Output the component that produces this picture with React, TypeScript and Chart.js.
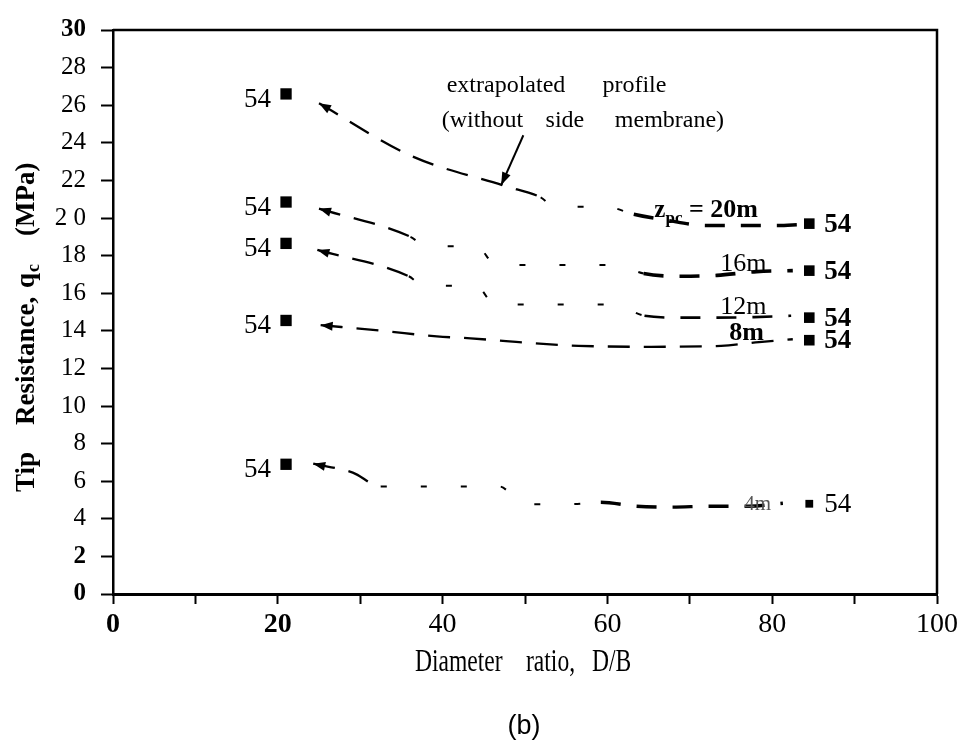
import React, { useEffect, useRef } from 'react';
import { Chart, registerables } from 'chart.js';

Chart.register(...registerables);

const SERIF = '"Liberation Serif", "Times New Roman", serif';
const SANS = '"Liberation Sans", Arial, sans-serif';

// ---- data ----
const leftD = 21;
const rightD = 84.5;
const leftQc = [26.6, 20.85, 18.65, 14.55, 6.9];
const rightQc = [19.7, 17.2, 14.7, 13.5, 4.8];
const pointLabel = '54';
const depthLabels = ['20m', '16m', '12m', '8m', '4m'];

const curve20X = [25, 36.2, 47.6, 51.9, 53.6, 59.8, 63.2, 67, 72, 76.4, 80.7, 83.3];
const curve20Y = [26.1, 23.3, 21.7, 21.1, 20.6, 20.6, 20.2, 19.9, 19.6, 19.6, 19.6, 19.65];
const curve16X = [25, 36.1, 38, 44.1, 46.5, 61, 64.4, 68.9, 73.3, 78.1, 82.5];
const curve16Y = [20.5, 19.0, 18.5, 18.5, 17.5, 17.5, 17.05, 16.9, 16.95, 17.15, 17.2];
const curve12X = [24.8, 35.9, 37.7, 44, 46.4, 60.9, 64.5, 68.9, 73.2, 77.8, 82.3];
const curve12Y = [18.3, 16.9, 16.4, 16.4, 15.4, 15.4, 14.8, 14.7, 14.7, 14.73, 14.8];
const curve8X = [25.2, 32.7, 39.3, 43.4, 47.7, 52.2, 56.5, 65.3, 73.8, 78.4, 82.5];
const curve8Y = [14.3, 14.0, 13.7, 13.6, 13.45, 13.3, 13.2, 13.15, 13.2, 13.4, 13.55];
const curve4X = [24.3, 29.1, 32.5, 46.9, 49.8, 55.6, 59.2, 63.5, 67.9, 72.3, 77.2, 81.3];
const curve4Y = [6.93, 6.46, 5.72, 5.72, 4.78, 4.78, 4.88, 4.67, 4.62, 4.67, 4.67, 4.83];

// style per curve (dash regimes by D/B range)
const curves = [
  { xs: curve20X, ys: curve20Y, longTo: 51.5, sparseTo: 63, boldW: 3.4 },
  { xs: curve16X, ys: curve16Y, longTo: 36, sparseTo: 62, boldW: 3.6 },
  { xs: curve12X, ys: curve12Y, longTo: 35.5, sparseTo: 62, boldW: 2.6 },
  { xs: curve8X, ys: curve8Y, longTo: 200, sparseTo: 200, boldW: 2.4 },
  { xs: curve4X, ys: curve4Y, longTo: 32, sparseTo: 58, boldW: 3.4 },
];

function segStyle(longTo: number, sparseTo: number, boldW: number) {
  return {
    borderDash: (c: any) => {
      const x = c.p0.parsed.x;
      if (x < longTo) return [22, 14];
      if (x < sparseTo) return [6, 34];
      return [20, 16];
    },
    borderWidth: (c: any) => {
      const x = c.p0.parsed.x;
      if (x < longTo) return 2.3;
      if (x < sparseTo) return 2;
      return boldW;
    },
  };
}

function drawHead(ctx: CanvasRenderingContext2D, x: number, y: number, ang: number, len: number, half: number) {
  const bx = x - len * Math.cos(ang);
  const by = y - len * Math.sin(ang);
  const nx = -Math.sin(ang) * half;
  const ny = Math.cos(ang) * half;
  ctx.beginPath();
  ctx.moveTo(x, y);
  ctx.lineTo(bx + nx, by + ny);
  ctx.lineTo(bx - nx, by - ny);
  ctx.closePath();
  ctx.fill();
}

const decor = {
  id: 'decor',
  afterDraw(chart: any) {
    const { ctx, chartArea: a, scales } = chart;
    const px = (v: number) => scales.x.getPixelForValue(v);
    const py = (v: number) => scales.y.getPixelForValue(v);
    ctx.save();
    ctx.fillStyle = '#000';
    ctx.strokeStyle = '#000';

    // frame: top and right
    ctx.lineWidth = 2.5;
    ctx.setLineDash([]);
    ctx.beginPath();
    ctx.moveTo(a.left, a.top);
    ctx.lineTo(a.right, a.top);
    ctx.lineTo(a.right, a.bottom);
    ctx.stroke();

    // arrowheads at the left end of each curve
    curves.forEach((_, i) => {
      const meta = chart.getDatasetMeta(i);
      const p0 = meta.data[0];
      const p1 = meta.data[1];
      const ang = Math.atan2(p0.y - p1.y, p0.x - p1.x);
      drawHead(ctx, p0.x, p0.y, ang, 12, 4.5);
    });

    // "54" labels next to markers
    const mMeta = chart.getDatasetMeta(curves.length);
    mMeta.data.forEach((p: any, i: number) => {
      if (i < leftQc.length) {
        ctx.font = `27px ${SERIF}`;
        ctx.textAlign = 'right';
        ctx.textBaseline = 'alphabetic';
        ctx.fillText(pointLabel, p.x - 15, p.y + 13);
      } else {
        const last = i === leftQc.length + rightQc.length - 1;
        ctx.font = `${last ? 'normal' : 'bold'} 27px ${SERIF}`;
        ctx.textAlign = 'left';
        ctx.textBaseline = 'alphabetic';
        ctx.fillText(pointLabel, p.x + 15, p.y + 8);
      }
    });

    // depth labels
    ctx.textAlign = 'left';
    ctx.textBaseline = 'alphabetic';
    {
      let x = px(65.7);
      const y = py(20.06);
      ctx.font = `bold 25px ${SERIF}`;
      ctx.fillText('z', x, y);
      x += ctx.measureText('z').width;
      ctx.font = `bold 17px ${SERIF}`;
      ctx.fillText('pc', x, y + 6);
      x += ctx.measureText('pc').width;
      ctx.font = `bold 26px ${SERIF}`;
      ctx.fillText(' = ' + depthLabels[0], x, y);
    }
    ctx.font = `26px ${SERIF}`;
    ctx.fillText(depthLabels[1], px(73.7), py(17.17));
    ctx.fillText(depthLabels[2], px(73.7), py(14.92));
    ctx.font = `bold 26px ${SERIF}`;
    ctx.fillText(depthLabels[3], px(74.8), py(13.5));
    ctx.fillStyle = '#555';
    ctx.font = `21px ${SERIF}`;
    ctx.fillText(depthLabels[4], px(76.6), py(4.45));
    ctx.fillStyle = '#000';

    // extrapolated profile annotation
    ctx.font = `24px ${SERIF}`;
    ctx.fillText('extrapolated', px(40.5), py(26.68));
    ctx.fillText('profile', px(59.4), py(26.68));
    ctx.fillText('(without', px(39.9), py(24.84));
    ctx.fillText('side', px(52.5), py(24.84));
    ctx.fillText('membrane)', px(60.9), py(24.84));
    {
      const x0 = px(49.8), y0 = py(24.4);
      const x1 = px(47.1), y1 = py(21.74);
      ctx.lineWidth = 2;
      ctx.beginPath();
      ctx.moveTo(x0, y0);
      ctx.lineTo(x1, y1);
      ctx.stroke();
      drawHead(ctx, x1, y1, Math.atan2(y1 - y0, x1 - x0), 13, 4.5);
    }

    // y-axis title (rotated, with subscript)
    ctx.save();
    ctx.translate(34, 0);
    ctx.rotate(-Math.PI / 2);
    ctx.font = `bold 27px ${SERIF}`;
    ctx.fillText('Tip', -492, 0);
    ctx.fillText('Resistance,', -425, 0);
    ctx.fillText('q', -288, 0);
    const qw = ctx.measureText('q').width;
    ctx.font = `bold 18px ${SERIF}`;
    ctx.fillText('c', -288 + qw + 1, 5);
    ctx.font = `bold 27px ${SERIF}`;
    ctx.fillText('(MPa)', -236, 0);
    ctx.restore();

    // x-axis title (condensed serif)
    const word = (t: string, x: number, y: number) => {
      ctx.save();
      ctx.translate(x, y);
      ctx.scale(0.76, 1);
      ctx.font = `31px ${SERIF}`;
      ctx.fillText(t, 0, 0);
      ctx.restore();
    };
    word('Diameter', 415, 671);
    word('ratio,', 526, 671);
    word('D/B', 592, 671);

    // panel tag
    ctx.font = `27px ${SANS}`;
    ctx.textAlign = 'center';
    ctx.fillText('(b)', 524, 734);

    ctx.restore();
  },
};

export default function App() {
  const ref = useRef<HTMLCanvasElement>(null);
  useEffect(() => {
    document.body.style.margin = '0';
    const curveSets = curves.map((c) => ({
      data: c.xs.map((x, i) => ({ x, y: c.ys[i] })),
      showLine: true,
      borderColor: '#000',
      borderWidth: 2.3,
      borderCapStyle: 'butt' as const,
      pointRadius: 0,
      fill: false,
      cubicInterpolationMode: 'monotone' as const,
      segment: segStyle(c.longTo, c.sparseTo, c.boldW),
    }));
    const markers = {
      data: [
        ...leftQc.map((y) => ({ x: leftD, y })),
        ...rightQc.map((y) => ({ x: rightD, y })),
      ],
      showLine: false,
      pointStyle: 'rect' as const,
      pointRadius: [8, 8, 8, 8, 8, 7.5, 7.5, 7.5, 7.5, 5.5],
      pointBackgroundColor: '#000',
      pointBorderColor: '#000',
      pointBorderWidth: 0,
    };
    const chart = new Chart(ref.current!, {
      type: 'scatter',
      data: { datasets: [...curveSets, markers] as any },
      options: {
        animation: false,
        responsive: true,
        maintainAspectRatio: false,
        events: [],
        layout: { autoPadding: false, padding: { left: 0, top: 23, right: 21, bottom: 0 } },
        plugins: { legend: { display: false }, tooltip: { enabled: false } },
        scales: {
          x: {
            type: 'linear',
            min: 0,
            max: 100,
            afterFit: (s: any) => { s.height = 150; },
            border: { display: true, color: '#000', width: 3 },
            grid: { drawOnChartArea: false, drawTicks: true, tickLength: 10, tickColor: '#000', tickWidth: 2 },
            ticks: {
              stepSize: 10,
              autoSkip: false,
              maxRotation: 0,
              padding: 4,
              color: '#000',
              font: (c: any) => ({ family: SERIF, size: 28, weight: (c.tick && (c.tick.value === 0 || c.tick.value === 20)) ? 'bold' : 'normal' }),
              callback: (v: any) => (Number(v) % 20 === 0 ? String(v) : ''),
            },
          },
          y: {
            type: 'linear',
            min: 0,
            max: 30,
            afterFit: (s: any) => { s.width = 113; },
            border: { display: true, color: '#000', width: 2.5 },
            grid: { drawOnChartArea: false, drawTicks: true, tickLength: 12, tickColor: '#000', tickWidth: 2 },
            ticks: {
              stepSize: 2,
              autoSkip: false,
              padding: 15,
              color: '#000',
              font: (c: any) => ({ family: SERIF, size: 25, weight: (c.tick && [30, 2, 0].includes(c.tick.value)) ? 'bold' : 'normal' }),
              callback: (v: any) => (Number(v) === 20 ? '2 0' : String(v)),
            },
          },
        },
      },
      plugins: [decor],
    });
    return () => chart.destroy();
  }, []);
  return (
    <div style={{ position: 'relative', width: 962, height: 744, background: '#fff' }}>
      <canvas ref={ref} />
    </div>
  );
}
